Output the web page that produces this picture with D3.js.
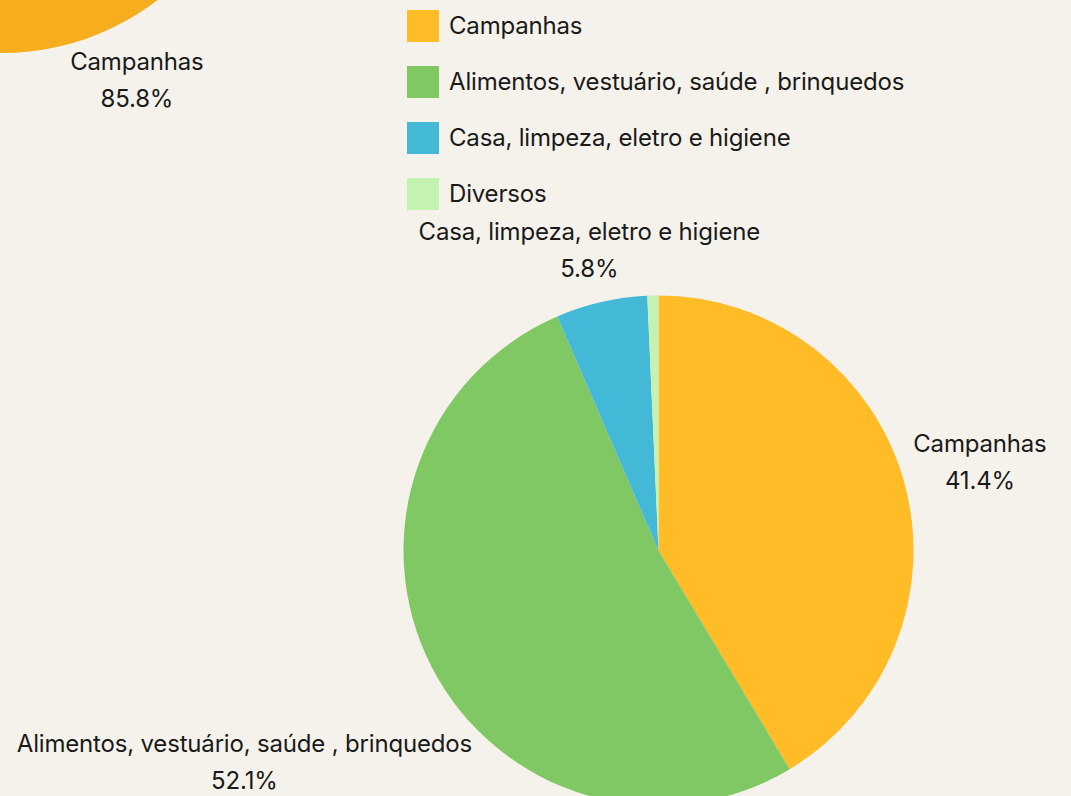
<!DOCTYPE html>
<html><head><meta charset="utf-8">
<script src="https://cdn.jsdelivr.net/npm/d3@7"></script>
<style>html,body{margin:0;padding:0;background:#F5F2EB;overflow:hidden}</style>
</head><body><svg id="chart" width="1071" height="796"></svg>
<script>
// ---- data ----
const categories = ["Campanhas", "Alimentos, vestuário, saúde , brinquedos", "Casa, limpeza, eletro e higiene", "Diversos"];
const mainValues = [41.4, 52.1, 5.8, 0.7];
const categoryColors = ["#FFBC27", "#7FC864", "#44B8D7", "#C4F2B0"];
const topCategories = ["Campanhas", "Outros"];
const topValues = [85.8, 14.2];
const topColors = ["#F6AE1E", "#7FC864"];

const W = 1071, H = 796;
const FONT = "Inter, 'Noto Sans', sans-serif";
const LS = "-0.18px";
const svg = d3.select("#chart");
svg.append("rect").attr("width", W).attr("height", H).attr("fill", "#F5F2EB");

const fmt = v => d3.format(".1f")(v) + "%";

function drawPie(cx, cy, R, names, values, colors) {
  const data = names.map((n, i) => ({name: n, value: values[i], color: colors[i]}));
  const pie = d3.pie().sort(null).value(d => d.value);
  const arc = d3.arc().innerRadius(0).outerRadius(R);
  const arcs = pie(data);
  const g = svg.append("g").attr("transform", `translate(${cx},${cy})`);
  g.selectAll("path").data(arcs).join("path")
    .attr("d", arc).attr("fill", d => d.data.color);

  arcs.forEach(a => {
    if (a.data.value < 1) return;
    const mid = (a.startAngle + a.endAngle) / 2;
    const ux = Math.sin(mid), uy = -Math.cos(mid);
    const t = g.append("text").attr("text-anchor", "middle")
      .attr("font-family", FONT).attr("font-size", 24).attr("letter-spacing", LS)
      .attr("fill", "#1a1a1a");
    const l1 = t.append("tspan").text(a.data.name);
    const l2 = t.append("tspan").text(fmt(a.data.value));
    const w = Math.max(l1.node().getComputedTextLength(), l2.node().getComputedTextLength());
    const hw = w / 2, hh = 30;
    const gap = d => {
      const bx = ux * d, by = uy * d;
      const nx = Math.max(bx - hw, Math.min(0, bx + hw));
      const ny = Math.max(by - hh, Math.min(0, by + hh));
      return Math.hypot(nx, ny);
    };
    let d = R * 1.21;
    while (gap(d) < R + 6) d += 1;
    let lx = ux * d, ly = uy * d;
    const ax = cx + lx, ay = cy + ly;
    // skip labels that fall completely outside the view
    if (ax + hw < 0 || ax - hw > W || ay + hh < 0 || ay - hh > H) { t.remove(); return; }
    // keep the second line inside the bottom edge
    if (cy + ly + 27.2 > H - 7) ly = H - 7 - 27.2 - cy;
    l1.attr("x", lx).attr("y", ly - 9.8);
    l2.attr("x", lx).attr("y", ly + 27.2);
  });
}

drawPie(2, -202, 255, topCategories, topValues, topColors);
drawPie(658.5, 550.5, 255, categories, mainValues, categoryColors);

// legend
const leg = svg.append("g").attr("transform", "translate(407,10)");
categories.forEach((c, i) => {
  leg.append("rect").attr("x", 0).attr("y", i * 56).attr("width", 32).attr("height", 32)
    .attr("fill", categoryColors[i]);
  leg.append("text").attr("x", 42).attr("y", i * 56 + 23.5)
    .attr("font-family", FONT).attr("font-size", 24).attr("letter-spacing", LS)
    .attr("fill", "#1a1a1a").text(c);
});
</script></body></html>
